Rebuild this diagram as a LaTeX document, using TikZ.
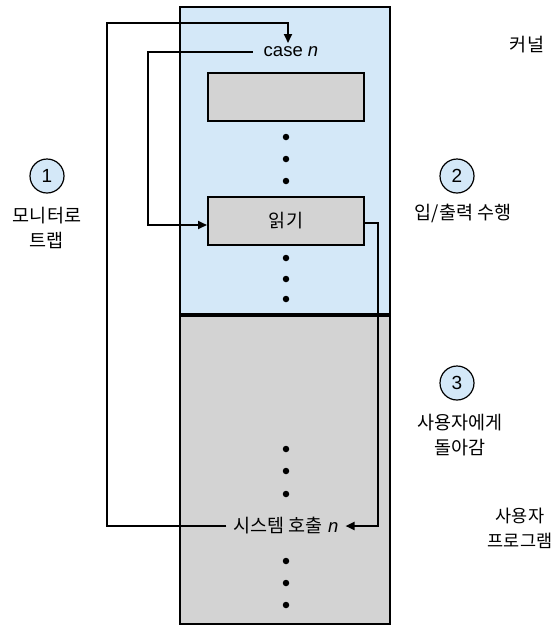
\documentclass[tikz,border=0pt]{standalone}
\usepackage{fontspec}
\setmainfont{Liberation Sans}
\newfontfamily\kr{Noto Sans CJK KR}
\usetikzlibrary{arrows.meta}
\definecolor{kernelblue}{HTML}{D4E8F8}
\definecolor{boxgray}{HTML}{D3D3D3}
\tikzset{
  region/.style={draw=black, line width=2pt, inner sep=0pt},
  codebox/.style={draw=black, line width=2pt, fill=boxgray, minimum width=156pt, minimum height=48pt, inner sep=0pt},
  label/.style={font=\fontsize{18.5}{25}\selectfont, align=center, inner sep=1pt},
  stepnum/.style={circle, draw=black, line width=1.2pt, fill=kernelblue, minimum size=34pt, inner sep=0pt, font=\fontsize{19}{19}\selectfont},
  flow/.style={line width=2pt},
  tip/.style={-{Triangle[length=9pt,width=8pt]}},
  dot/.style={circle, fill=black, minimum size=6.5pt, inner sep=0pt},
}
\begin{document}
\begin{tikzpicture}[x=1pt,y=-1pt]
\useasboundingbox (0,0) rectangle (557,630);
% kernel and user regions
\fill[kernelblue] (180,7) rectangle (390,315);
\fill[boxgray] (180,315) rectangle (390,624);
\draw[region] (180,7) rectangle (390,624);
\draw[line width=4pt] (180,315) -- (390,315);

% kernel code
\node[label, inner xsep=11pt] (case) at (291,52) {case \textit{n}};
\node[codebox] (blank) at (286,97) {};
\node[codebox] (read) at (286,221) {};
\node[label] (readtxt) at (286,221) {\kr 읽기};
\foreach \y/\n in {137/a,159/b,181/c,258/d,279/e,299/f}
  \node[dot] (k\n) at (286,\y) {};

% user program
\foreach \y/\n in {449/a,471/b,494/c,561/d,583/e,605/f}
  \node[dot] (u\n) at (286,\y) {};
\node[label, inner xsep=7pt] (syscall) at (286,526) {{\kr 시스템 호출} \textit{n}};

% control flow
\coordinate (trapL) at (107,23);
\coordinate (caseIn) at (288,43);
\draw[flow, tip] (syscall.west) -- (107,526) -- (trapL) -- (288,23) -- (caseIn);
\draw[flow, tip] (case.west) -- (148,52) -- (148,225) -- (read.west |- 0,225);
\coordinate (retR) at (378,223);
\draw[flow, tip] (read.east |- 0,223) -- (retR) -- (378,526) -- (syscall.east);

% step markers and captions
\node[stepnum] (s1) at (47,176) {1};
\node[label] (l1) at (47,228) {\kr 모니터로\\\kr 트랩};
\node[stepnum] (s2) at (457,176) {2};
\node[label] (l2) at (463,213) {\kr 입/출력 수행};
\node[stepnum] (s3) at (457,383) {3};
\node[label] (l3) at (460,435) {\kr 사용자에게\\\kr 돌아감};
\node[label] (kern) at (527,45) {\kr 커널};
\node[label, font=\fontsize{17.5}{25}\selectfont] (user) at (520,528) {\kr 사용자\\\kr 프로그램};
\end{tikzpicture}
\end{document}
